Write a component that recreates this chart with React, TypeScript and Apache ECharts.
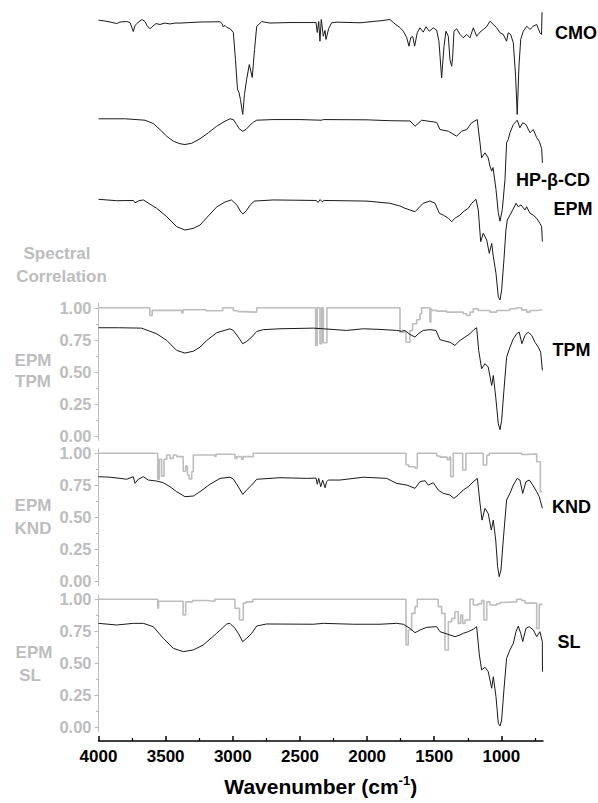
import React, { useEffect, useRef } from 'react';
import * as echarts from 'echarts';

// ---- Data: [wavenumber (cm-1), normalized transmittance] ----
const CMO_SPECTRUM = [
  [4000,0.913],[3952,0.907],[3914,0.899],[3864,0.887],[3840,0.899],[3790,0.903],[3765,0.895],[3741,0.825],
  [3728,0.872],[3706,0.895],[3676,0.919],[3654,0.903],[3639,0.872],[3617,0.846],[3594,0.868],[3572,0.887],
  [3542,0.880],[3505,0.891],[3468,0.884],[3430,0.891],[3393,0.891],[3244,0.899],[3095,0.901],[3080,0.887],
  [3071,0.862],[3058,0.872],[3043,0.856],[3021,0.848],[2996,0.817],[2980,0.606],[2965,0.372],[2954,0.348],
  [2943,0.294],[2926,0.177],[2913,0.333],[2897,0.450],[2877,0.567],[2855,0.466],[2838,0.684],[2822,0.864],
  [2785,0.903],[2723,0.891],[2574,0.895],[2380,0.895],[2371,0.817],[2360,0.903],[2351,0.749],[2341,0.919],
  [2326,0.788],[2313,0.833],[2306,0.763],[2286,0.848],[2264,0.893],[2224,0.898],[2053,0.893],[1882,0.911],
  [1830,0.919],[1805,0.895],[1756,0.856],[1730,0.827],[1705,0.778],[1688,0.710],[1675,0.778],[1660,0.786],
  [1646,0.710],[1626,0.817],[1606,0.854],[1582,0.820],[1561,0.862],[1537,0.827],[1507,0.854],[1482,0.835],
  [1465,0.749],[1445,0.463],[1427,0.710],[1413,0.827],[1395,0.788],[1383,0.606],[1370,0.554],[1363,0.622],
  [1353,0.827],[1333,0.846],[1308,0.802],[1284,0.776],[1258,0.802],[1234,0.776],[1209,0.854],[1184,0.788],
  [1159,0.820],[1135,0.841],[1110,0.862],[1085,0.905],[1060,0.880],[1035,0.854],[1010,0.815],[986,0.802],
  [961,0.749],[949,0.815],[931,0.802],[911,0.737],[894,0.476],[882,0.177],[869,0.554],[856,0.763],
  [837,0.827],[811,0.866],[787,0.841],[763,0.866],[737,0.880],[713,0.815],[701,0.802],[697,0.976]
];

const HPBCD_SPECTRUM = [
  [4000,0.843],[3800,0.843],[3654,0.832],[3592,0.806],[3542,0.759],[3492,0.707],[3443,0.668],[3393,0.648],
  [3356,0.642],[3306,0.652],[3244,0.687],[3182,0.734],[3120,0.785],[3058,0.824],[3021,0.843],[2996,0.837],
  [2971,0.798],[2952,0.765],[2926,0.746],[2902,0.759],[2872,0.793],[2847,0.816],[2822,0.832],[2700,0.837],
  [2500,0.837],[2340,0.832],[2326,0.837],[2000,0.835],[1830,0.828],[1680,0.826],[1643,0.785],[1593,0.832],
  [1482,0.815],[1457,0.759],[1395,0.746],[1333,0.707],[1296,0.746],[1258,0.759],[1221,0.812],[1180,0.837],
  [1159,0.655],[1147,0.538],[1122,0.577],[1098,0.538],[1085,0.473],[1072,0.434],[1062,0.462],[1040,0.291],
  [1023,0.109],[1010,0.043],[993,0.134],[973,0.369],[961,0.655],[949,0.681],[936,0.734],[911,0.798],
  [882,0.832],[862,0.773],[841,0.812],[817,0.798],[787,0.734],[762,0.759],[737,0.695],[718,0.668],
  [700,0.609],[694,0.499]
];

const EPM_SPECTRUM = [
  [4000,0.814],[3864,0.803],[3740,0.805],[3728,0.787],[3700,0.803],[3666,0.809],[3567,0.744],[3492,0.678],
  [3418,0.600],[3356,0.574],[3294,0.587],[3244,0.613],[3182,0.684],[3120,0.754],[3058,0.793],[3010,0.809],
  [2970,0.770],[2940,0.715],[2925,0.700],[2900,0.723],[2870,0.770],[2840,0.800],[2700,0.809],[2380,0.805],
  [2365,0.790],[2350,0.812],[2335,0.795],[2320,0.805],[2000,0.800],[1830,0.783],[1756,0.762],[1718,0.744],
  [1643,0.717],[1582,0.783],[1532,0.801],[1494,0.783],[1462,0.705],[1433,0.691],[1395,0.666],[1370,0.639],
  [1346,0.666],[1308,0.691],[1284,0.717],[1246,0.744],[1221,0.783],[1189,0.814],[1172,0.730],[1154,0.483],
  [1135,0.548],[1109,0.496],[1090,0.392],[1072,0.470],[1060,0.366],[1040,0.236],[1023,0.053],[1010,0.027],
  [998,0.105],[981,0.340],[966,0.574],[956,0.652],[936,0.691],[916,0.730],[891,0.783],[874,0.756],
  [854,0.770],[824,0.730],[812,0.756],[787,0.705],[763,0.691],[737,0.666],[713,0.626],[700,0.600],[695,0.483]
];

const TPM_SPECTRUM = [
  [4000,0.844],[3850,0.844],[3680,0.841],[3567,0.797],[3492,0.745],[3418,0.667],[3356,0.646],[3294,0.661],
  [3244,0.692],[3194,0.745],[3120,0.805],[3021,0.836],[2996,0.823],[2959,0.771],[2926,0.719],[2897,0.737],
  [2859,0.771],[2822,0.815],[2773,0.829],[2649,0.836],[2401,0.841],[2326,0.836],[2152,0.823],[2028,0.836],
  [1904,0.831],[1780,0.823],[1742,0.817],[1718,0.823],[1681,0.792],[1643,0.771],[1619,0.797],[1582,0.823],
  [1532,0.829],[1487,0.823],[1457,0.751],[1420,0.740],[1383,0.731],[1346,0.706],[1308,0.745],[1271,0.771],
  [1234,0.797],[1204,0.829],[1184,0.844],[1169,0.667],[1147,0.524],[1122,0.563],[1098,0.537],[1072,0.393],
  [1060,0.471],[1042,0.302],[1023,0.094],[1010,0.047],[998,0.120],[981,0.354],[961,0.614],[936,0.692],
  [911,0.758],[886,0.797],[867,0.810],[847,0.719],[824,0.784],[800,0.810],[774,0.784],[750,0.731],
  [725,0.692],[707,0.653],[695,0.511]
];

const TPM_CORRELATION = [
  [4000,1.0],[3617,0.94],[3600,0.98],[3393,0.98],[3380,0.96],[3370,0.985],[3200,0.977],[3075,1.0],
  [2996,0.977],[2960,0.97],[2922,0.966],[2822,1.0],[2383,0.706],[2371,1.0],[2351,0.719],[2338,1.0],
  [2326,0.727],[2299,1.0],[1755,0.81],[1710,0.731],[1681,0.823],[1661,0.875],[1631,0.906],[1606,0.953],
  [1594,1.0],[1532,0.888],[1525,0.99],[1519,0.98],[1482,0.974],[1407,0.966],[1284,0.953],[1258,0.94],
  [1234,0.966],[1209,0.992],[1172,0.979],[1085,0.966],[1035,0.979],[936,0.992],[886,1.0],[849,0.984],
  [812,0.966],[787,0.979],[737,0.984],[695,0.984]
];

const KND_SPECTRUM = [
  [4000,0.817],[3914,0.813],[3840,0.804],[3790,0.797],[3741,0.817],[3728,0.765],[3704,0.797],[3666,0.817],
  [3629,0.791],[3567,0.783],[3518,0.770],[3468,0.739],[3418,0.700],[3356,0.661],[3294,0.666],[3244,0.700],
  [3170,0.758],[3095,0.804],[3021,0.813],[2996,0.799],[2959,0.739],[2926,0.679],[2897,0.713],[2859,0.752],
  [2822,0.797],[2649,0.809],[2450,0.804],[2380,0.806],[2371,0.758],[2360,0.804],[2345,0.739],[2331,0.791],
  [2313,0.731],[2301,0.778],[2289,0.791],[2202,0.791],[2028,0.813],[1854,0.804],[1780,0.765],[1705,0.752],
  [1643,0.726],[1606,0.778],[1569,0.786],[1544,0.752],[1507,0.770],[1470,0.713],[1433,0.687],[1383,0.674],
  [1353,0.648],[1321,0.674],[1284,0.713],[1246,0.739],[1209,0.778],[1179,0.804],[1159,0.609],[1144,0.478],
  [1122,0.570],[1098,0.530],[1075,0.400],[1060,0.478],[1042,0.322],[1028,0.114],[1016,0.036],[1003,0.088],
  [986,0.322],[961,0.635],[936,0.687],[911,0.752],[882,0.804],[862,0.791],[841,0.687],[817,0.778],
  [792,0.791],[767,0.752],[737,0.700],[718,0.661],[695,0.570]
];

const KND_CORRELATION = [
  [4000,1.0],[3559,0.797],[3547,0.953],[3530,0.82],[3512,0.953],[3492,0.987],[3468,0.96],[3443,0.987],
  [3418,0.974],[3369,0.86],[3351,0.9],[3338,0.83],[3324,0.8],[3306,0.856],[3294,0.987],[3133,0.975],
  [3125,0.992],[2984,0.96],[2971,0.974],[2934,0.953],[2922,0.974],[2847,1.0],[1710,0.91],[1690,0.895],
  [1643,0.883],[1626,1.0],[1482,0.979],[1457,0.97],[1403,0.95],[1388,0.97],[1378,0.817],[1358,1.0],
  [1288,0.87],[1264,1.0],[1135,0.909],[1109,0.985],[1090,1.0],[849,0.99],[812,0.995],[737,0.934],
  [710,0.70],[695,0.70]
];

const SL_SPECTRUM = [
  [4000,0.812],[3864,0.799],[3741,0.812],[3666,0.812],[3592,0.786],[3518,0.695],[3443,0.617],[3369,0.591],
  [3294,0.604],[3220,0.643],[3120,0.734],[3045,0.807],[3021,0.812],[2984,0.773],[2959,0.734],[2926,0.669],
  [2897,0.695],[2859,0.734],[2822,0.791],[2748,0.807],[2401,0.805],[2326,0.812],[2100,0.805],[1904,0.805],
  [1780,0.812],[1730,0.805],[1681,0.773],[1643,0.739],[1606,0.760],[1556,0.781],[1482,0.786],[1457,0.747],
  [1420,0.734],[1383,0.721],[1346,0.708],[1308,0.721],[1284,0.734],[1246,0.747],[1209,0.766],[1184,0.786],
  [1164,0.565],[1147,0.448],[1122,0.469],[1098,0.435],[1072,0.305],[1060,0.395],[1040,0.239],[1023,0.031],
  [1010,0.010],[998,0.057],[981,0.291],[961,0.539],[936,0.604],[911,0.656],[891,0.747],[874,0.791],
  [856,0.734],[841,0.669],[817,0.773],[792,0.786],[762,0.760],[737,0.708],[713,0.747],[695,0.669],[694,0.435]
];

const SL_CORRELATION = [
  [4000,1.0],[3559,0.93],[3553,0.985],[3370,0.877],[3351,0.98],[3300,0.99],[3200,0.985],[3133,1.0],
  [2984,0.93],[2950,0.838],[2922,0.97],[2900,0.98],[2850,1.0],[1710,0.643],[1693,0.76],[1668,0.89],
  [1643,0.943],[1626,1.0],[1470,0.943],[1445,0.89],[1420,0.604],[1395,0.825],[1370,0.851],[1346,0.903],
  [1321,0.812],[1303,0.877],[1288,0.812],[1271,0.838],[1234,1.0],[1209,0.955],[1172,0.965],[1147,0.99],
  [1130,0.838],[1109,0.98],[1085,0.955],[1035,0.965],[1010,0.975],[986,0.98],[886,1.0],[849,0.99],
  [824,0.97],[737,0.773],[718,0.96],[695,0.96]
];

// ---- Axis ticks / labels ----
const X_MAJOR_TICKS = [4000, 3500, 3000, 2500, 2000, 1500, 1000];
const X_MINOR_TICKS = [3750, 3250, 2750, 2250, 1750, 1250, 750];
const Y_MAJOR_TICKS = [0, 0.25, 0.5, 0.75, 1];
const Y_MINOR_TICKS = [0.125, 0.375, 0.625, 0.875];
const RIGHT_LABELS = ['CMO', 'HP-β-CD', 'EPM', 'TPM', 'KND', 'SL'];
const PANEL_LABELS = [['EPM', 'TPM'], ['EPM', 'KND'], ['EPM', 'SL']];

// ---- Layout / style ----
const FONT = '"Liberation Sans", Arial, Helvetica, sans-serif';
const GRAY = '#bdbdbd';
const INK = '#1a1a1a';
const X_MIN = 690;
const X_MAX = 4000;
const LEFT = 98.5;
const WIDTH = 444.5;
const PX_PER_UNIT = 128;
const TOP_HEIGHT = 303.5;
const TOP_OFFSETS = [1.3, 0.6, 0];
const PANEL_TOPS = [303.3, 448.8, 594.8];
const PANEL_MIN = -0.035;
const PANEL_MAX = 1.035;
const RIGHT_LABEL_POS = [[576, 33], [553, 180], [573, 209], [571.5, 350], [571.5, 506.5], [569, 641.5]];
const PANEL_LABEL_POS = [[[33, 360], [33, 381]], [[33, 505], [33, 528]], [[34, 652], [30, 675]]];

function text(x: number, y: number, t: string, color: string, size: number) {
  return {
    type: 'text',
    x,
    y,
    silent: true,
    style: {
      text: t,
      fill: color,
      fontSize: size,
      fontWeight: 'bold',
      fontFamily: FONT,
      align: 'center',
      verticalAlign: 'middle',
      textAlign: 'center',
      textVerticalAlign: 'middle',
    },
  };
}

export default function App() {
  const ref = useRef<HTMLDivElement>(null);

  useEffect(() => {
    if (!ref.current) return;
    const chart = echarts.init(ref.current, null, { renderer: 'svg' });

    const panelH = (PANEL_MAX - PANEL_MIN) * PX_PER_UNIT;
    const grid: any[] = [
      { left: LEFT, width: WIDTH, top: 0, height: TOP_HEIGHT },
      ...PANEL_TOPS.map((t) => ({ left: LEFT, width: WIDTH, top: t, height: panelH })),
      { left: LEFT, width: WIDTH, top: 740, height: 1 },
    ];

    const hiddenX = (i: number) => ({
      gridIndex: i, type: 'value', min: X_MIN, max: X_MAX, inverse: true, show: false,
    });

    const xAxis: any[] = [
      hiddenX(0), hiddenX(1), hiddenX(2), hiddenX(3),
      {
        gridIndex: 4, type: 'value', min: X_MIN, max: X_MAX, inverse: true, position: 'bottom',
        axisLine: { show: true, lineStyle: { color: '#000', width: 1.5 } },
        axisTick: { show: true, inside: true, length: 5, lineStyle: { color: '#000', width: 1.5 }, customValues: X_MAJOR_TICKS },
        axisLabel: {
          show: true, customValues: X_MAJOR_TICKS, formatter: (v: number) => String(Math.round(v)),
          color: '#000', fontWeight: 'bold', fontSize: 17, fontFamily: FONT, margin: 7,
        },
        splitLine: { show: false },
        name: '{a|Wavenumber (cm}{b|-1}{a|)}',
        nameLocation: 'middle',
        nameGap: 33,
        nameTextStyle: {
          rich: {
            a: { fontSize: 21, fontWeight: 'bold', fontFamily: FONT, color: '#000', lineHeight: 24 },
            b: { fontSize: 13, fontWeight: 'bold', fontFamily: FONT, color: '#000', verticalAlign: 'top', lineHeight: 14 },
          },
        },
      },
      {
        gridIndex: 4, type: 'value', min: X_MIN, max: X_MAX, inverse: true, position: 'bottom',
        axisLine: { show: false },
        axisTick: { show: true, inside: true, length: 3, lineStyle: { color: '#000', width: 1.2 }, customValues: X_MINOR_TICKS },
        axisLabel: { show: false },
        splitLine: { show: false },
      },
    ];

    const yAxis: any[] = [
      { gridIndex: 0, type: 'value', min: 0, max: TOP_HEIGHT / PX_PER_UNIT, show: false },
    ];
    [1, 2, 3].forEach((g) => {
      yAxis.push({
        gridIndex: g, type: 'value', min: PANEL_MIN, max: PANEL_MAX, position: 'left',
        axisLine: { show: true, lineStyle: { color: GRAY, width: 1 } },
        axisTick: { show: true, inside: false, length: 4, lineStyle: { color: GRAY, width: 1 }, customValues: Y_MAJOR_TICKS },
        axisLabel: {
          show: true, customValues: Y_MAJOR_TICKS, formatter: (v: number) => Number(v).toFixed(2),
          color: GRAY, fontWeight: 'bold', fontSize: 16.5, fontFamily: FONT, margin: 7,
        },
        splitLine: { show: false },
      });
      yAxis.push({
        gridIndex: g, type: 'value', min: PANEL_MIN, max: PANEL_MAX, position: 'left',
        axisLine: { show: false },
        axisTick: { show: true, inside: false, length: 2.5, lineStyle: { color: GRAY, width: 1 }, customValues: Y_MINOR_TICKS },
        axisLabel: { show: false },
        splitLine: { show: false },
      });
    });
    yAxis.push({ gridIndex: 4, type: 'value', min: 0, max: 1, show: false });

    const line = (data: number[][], xi: number, yi: number, color: string, width: number, step?: string) => ({
      type: 'line',
      xAxisIndex: xi,
      yAxisIndex: yi,
      data,
      step: step || false,
      showSymbol: false,
      symbol: 'none',
      silent: true,
      lineStyle: { color, width },
    });

    const shift = (arr: number[][], off: number) => arr.map(([w, v]) => [w, v + off]);

    const series: any[] = [
      line(shift(CMO_SPECTRUM, TOP_OFFSETS[0]), 0, 0, INK, 1),
      line(shift(HPBCD_SPECTRUM, TOP_OFFSETS[1]), 0, 0, INK, 1),
      line(shift(EPM_SPECTRUM, TOP_OFFSETS[2]), 0, 0, INK, 1),
      line(TPM_CORRELATION, 1, 1, GRAY, 1.6, 'end'),
      line(TPM_SPECTRUM, 1, 1, INK, 1),
      line(KND_CORRELATION, 2, 3, GRAY, 1.6, 'end'),
      line(KND_SPECTRUM, 2, 3, INK, 1),
      line(SL_CORRELATION, 3, 5, GRAY, 1.6, 'end'),
      line(SL_SPECTRUM, 3, 5, INK, 1),
    ];

    const graphic: any[] = [];
    RIGHT_LABELS.forEach((t, i) => {
      graphic.push(text(RIGHT_LABEL_POS[i][0], RIGHT_LABEL_POS[i][1], t, '#000', 18));
    });
    graphic.push(text(57, 253, 'Spectral', GRAY, 17));
    graphic.push(text(61.5, 276, 'Correlation', GRAY, 17));
    PANEL_LABELS.forEach((pair, i) => {
      pair.forEach((t, j) => {
        graphic.push(text(PANEL_LABEL_POS[i][j][0], PANEL_LABEL_POS[i][j][1], t, GRAY, 17));
      });
    });

    chart.setOption({
      animation: false,
      backgroundColor: '#ffffff',
      grid,
      xAxis,
      yAxis,
      series,
      graphic,
    });

    return () => chart.dispose();
  }, []);

  return (
    <div
      ref={ref}
      style={{ position: 'fixed', left: 0, top: 0, width: 598, height: 803, background: '#fff' }}
    />
  );
}
